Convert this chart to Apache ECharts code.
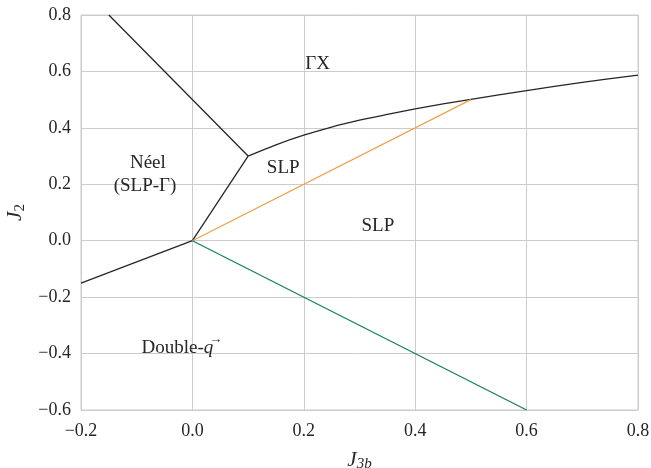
<!DOCTYPE html>
<html><head><meta charset="utf-8">
<script src="https://cdn.jsdelivr.net/npm/echarts@6/dist/echarts.min.js"></script>
<style>html,body{margin:0;padding:0;background:#fff}#c{width:651px;height:468px}</style>
</head><body><div id="c"></div>
<script>
// Phase boundaries
const upperLineX = [-0.15, 0.1];
const upperLineY = [0.8, 0.3];
const midLineX = [0.0, 0.1];
const midLineY = [0.0, 0.3];
const leftLineX = [-0.2, 0.0];
const leftLineY = [-0.15, 0.0];
const curveX = [0.1, 0.15, 0.2, 0.25, 0.3, 0.35, 0.4, 0.45, 0.5, 0.6, 0.7, 0.8];
const curveY = [0.3, 0.340, 0.374, 0.403, 0.427, 0.448, 0.467, 0.485, 0.501, 0.532, 0.561, 0.587];
const orangeX = [0.0, 0.5];
const orangeY = [0.0, 0.5];
const greenX = [0.0, 0.6];
const greenY = [0.0, -0.6];
// Region labels
const labelText = ['ΓX', 'SLP', 'SLP', 'Néel', '(SLP-Γ)', 'Double-{q|q}', '{a|\u2192}'];
const labelX = [0.225, 0.163, 0.333, -0.08, -0.085, -0.027, 0.042];
const labelY = [0.626, 0.258, 0.052, 0.275, 0.194, -0.38, -0.35];
const xTicks = [-0.2, 0.0, 0.2, 0.4, 0.6, 0.8];
const yTicks = [-0.6, -0.4, -0.2, 0.0, 0.2, 0.4, 0.6, 0.8];

const zip = (a, b) => a.map((v, i) => [v, b[i]]);
const font = 'Liberation Serif';
const fmt = v => (v < 0 ? '\u2212' : '') + Math.abs(v).toFixed(1);

const chart = echarts.init(document.getElementById('c'));
const lineSeries = (xs, ys, color, smooth) => ({
  type: 'line', data: zip(xs, ys), symbol: 'none', smooth: smooth || false,
  lineStyle: { color: color, width: 1.3 }, silent: true, animation: false
});
chart.setOption({
  animation: false,
  grid: { left: 81, right: 13, top: 15, bottom: 58, show: true, borderColor: '#cccccc', borderWidth: 1,
          containLabel: false, outerBoundsMode: 'none' },
  xAxis: {
    type: 'value', min: -0.2, max: 0.8, interval: 0.2,
    axisLine: { show: false }, axisTick: { show: false },
    splitLine: { lineStyle: { color: '#cccccc', width: 1 } },
    axisLabel: { fontFamily: font, fontSize: 18, color: '#262626', margin: 12, formatter: fmt },
    name: '{i|J}{s|3b}', nameLocation: 'middle', nameGap: 38,
    nameTextStyle: { rich: {
      i: { fontFamily: font, fontStyle: 'italic', fontSize: 21, color: '#262626' },
      s: { fontFamily: font, fontStyle: 'italic', fontSize: 15, color: '#262626', padding: [9, 0, 0, 0] }
    } }
  },
  yAxis: {
    type: 'value', min: -0.6, max: 0.8, interval: 0.2,
    axisLine: { show: false }, axisTick: { show: false },
    splitLine: { lineStyle: { color: '#cccccc', width: 1 } },
    axisLabel: { fontFamily: font, fontSize: 18, color: '#262626', margin: 10, formatter: fmt },
    name: '{i|J}{s|2}', nameLocation: 'middle', nameGap: 50,
    nameTextStyle: { rich: {
      i: { fontFamily: font, fontStyle: 'italic', fontSize: 21, color: '#262626' },
      s: { fontFamily: font, fontSize: 15, color: '#262626', padding: [9, 0, 0, 0] }
    } }
  },
  series: [
    lineSeries(upperLineX, upperLineY, '#262626'),
    lineSeries(midLineX, midLineY, '#262626'),
    lineSeries(leftLineX, leftLineY, '#262626'),
    lineSeries(curveX, curveY, '#262626', 0.3),
    lineSeries(orangeX, orangeY, '#eba34a'),
    lineSeries(greenX, greenY, '#17805a'),
    {
      type: 'scatter', symbolSize: 0, silent: true, itemStyle: { opacity: 1 },
      data: labelText.map((t, i) => ({ value: [labelX[i], labelY[i]], label: { formatter: t } })),
      label: {
        show: true, position: 'inside', fontFamily: font, fontSize: 19, color: '#262626', opacity: 1,
        rich: {
          q: { fontFamily: font, fontStyle: 'italic', fontSize: 19, color: '#262626' },
          a: { fontFamily: font, fontSize: 13, color: '#262626' }
        }
      }
    }
  ]
});
</script></body></html>
